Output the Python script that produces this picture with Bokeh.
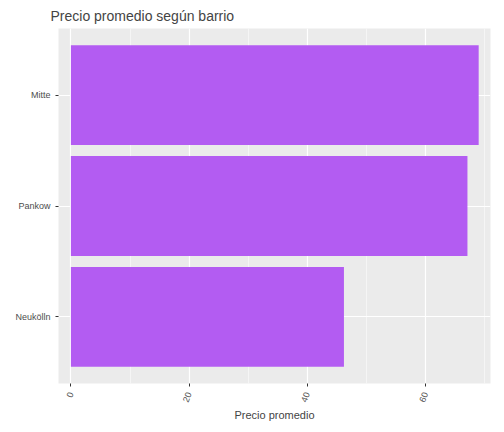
from bokeh.plotting import figure
from bokeh.models import FactorRange, Range1d, SingleIntervalTicker
from bokeh.embed import file_html
from bokeh.resources import INLINE

barrios = ["Neukölln", "Pankow", "Mitte"]
precios = [46.2, 67.1, 69.0]

p = figure(
    title="Precio promedio según barrio",
    y_range=FactorRange(factors=barrios, range_padding=0.067),
    x_range=Range1d(-2.1, 71.0),
    width=496, height=424,
    output_backend="svg", toolbar_location=None,
    x_axis_label="Precio promedio",
)

p.hbar(y=barrios, right=precios, left=0, height=0.9, color="#b35cf2", line_color=None)

p.background_fill_color = "#ebebeb"
p.border_fill_color = "white"
p.outline_line_color = None
p.min_border_left = 58
p.min_border_top = 10
p.min_border_right = 6

p.title.text_font = "Liberation Sans"
p.title.text_font_size = "14px"
p.title.text_font_style = "normal"
p.title.offset = -8

p.xaxis.ticker = SingleIntervalTicker(interval=20, num_minor_ticks=2)
p.xgrid.grid_line_color = "white"
p.xgrid.grid_line_width = 1.2
p.xgrid.minor_grid_line_color = "white"
p.xgrid.minor_grid_line_width = 0.5
p.ygrid.grid_line_color = "white"
p.ygrid.grid_line_width = 1.2

for ax in (p.xaxis, p.yaxis):
    ax.axis_line_color = None
    ax.major_tick_line_color = "#333333"
    ax.major_tick_in = 0
    ax.major_tick_out = 3
    ax.minor_tick_line_color = None
    ax.major_label_text_color = "#4d4d4d"
    ax.major_label_text_font = "Liberation Sans"
    ax.major_label_text_font_size = "9px"

p.xaxis.major_label_orientation = 1.2
p.xaxis.axis_label_text_font = "Liberation Sans"
p.xaxis.axis_label_text_font_size = "11px"
p.xaxis.axis_label_text_font_style = "normal"
p.xaxis.axis_label_standoff = 2

open("out.html", "w").write(file_html(p, INLINE))
